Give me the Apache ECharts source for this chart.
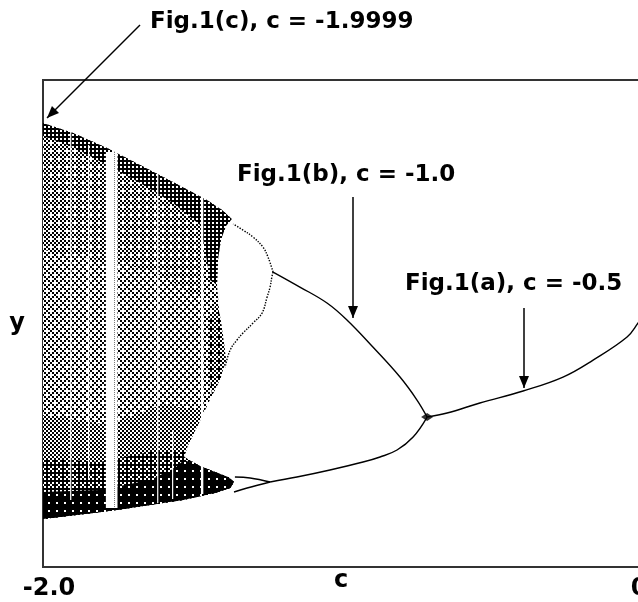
<!DOCTYPE html>
<html>
<head>
<meta charset="utf-8">
<title>Bifurcation diagram</title>
<script src="https://cdn.jsdelivr.net/npm/echarts@6/dist/echarts.min.js"></script>
<style>
  html, body { margin: 0; padding: 0; background: #fff; }
  #chart { width: 638px; height: 602px; }
</style>
</head>
<body>
<div id="chart"></div>
<script>
// 横轴刻度
const xTicks = [-2, 0]
const xTickLabels = ['-2.0', '0']

// 混沌区外轮廓 [c, y]
const chaosOutline = [
  [-2.000, 1.967], [-1.899, 1.866], [-1.785, 1.715], [-1.674, 1.544], [-1.564, 1.373],
  [-1.450, 1.192], [-1.399, 1.092], [-1.366, 1.001], [-1.386, 0.931], [-1.403, 0.790],
  [-1.413, 0.589], [-1.416, 0.337], [-1.409, 0.086], [-1.396, -0.166], [-1.386, -0.418],
  [-1.406, -0.619], [-1.440, -0.820], [-1.480, -1.072], [-1.513, -1.273], [-1.527, -1.393],
  [-1.473, -1.484], [-1.423, -1.544], [-1.379, -1.595], [-1.359, -1.645], [-1.372, -1.705],
  [-1.423, -1.755], [-1.530, -1.826], [-1.641, -1.876], [-1.752, -1.926], [-1.832, -1.957],
  [-1.943, -1.997], [-2.000, -2.017]
]
// 左上较密区
const upperMid = [
  [-2.000, 1.836], [-1.899, 1.725], [-1.785, 1.544], [-1.674, 1.363], [-1.564, 1.162],
  [-1.473, 0.940], [-1.456, 0.688], [-1.456, 0.186], [-1.641, 0.488], [-2.000, 0.689]
]
// 上沿密集带
const topBand = [
  [-2.000, 1.967], [-1.899, 1.866], [-1.785, 1.715], [-1.674, 1.544], [-1.564, 1.373],
  [-1.450, 1.192], [-1.399, 1.092], [-1.366, 1.001], [-1.386, 0.931], [-1.403, 0.790],
  [-1.413, 0.589], [-1.416, 0.337], [-1.440, 0.387], [-1.456, 0.688],
  [-1.473, 0.940], [-1.564, 1.162], [-1.674, 1.363], [-1.785, 1.544], [-1.899, 1.725],
  [-2.000, 1.836]
]
// 右缘中部
const rightPatch = [
  [-1.416, 0.186], [-1.396, -0.166], [-1.386, -0.418], [-1.406, -0.619], [-1.433, -0.770],
  [-1.446, -0.418], [-1.440, -0.015]
]
// 下部: 由浅到深
const bottomLow = [
  [-2.000, -0.971], [-1.775, -1.072], [-1.607, -0.870], [-1.456, -0.920], [-1.480, -1.072],
  [-1.513, -1.273], [-1.527, -1.393],
  [-1.473, -1.484], [-1.423, -1.544], [-1.379, -1.595], [-1.359, -1.645], [-1.372, -1.705],
  [-1.423, -1.755], [-1.530, -1.826], [-1.641, -1.876], [-1.752, -1.926], [-1.832, -1.957],
  [-1.943, -1.997], [-2.000, -2.017]
]
const bottomMid = [
  [-2.000, -1.403], [-1.809, -1.444], [-1.641, -1.343], [-1.520, -1.323], [-1.527, -1.393],
  [-1.473, -1.484], [-1.423, -1.544], [-1.379, -1.595], [-1.359, -1.645], [-1.372, -1.705],
  [-1.423, -1.755], [-1.530, -1.826], [-1.641, -1.876], [-1.752, -1.926], [-1.832, -1.957],
  [-1.943, -1.997], [-2.000, -2.017]
]
const bottomDark = [
  [-2.000, -1.745], [-1.809, -1.725], [-1.641, -1.625], [-1.557, -1.504], [-1.527, -1.423],
  [-1.473, -1.484], [-1.423, -1.544], [-1.379, -1.595], [-1.359, -1.645], [-1.372, -1.705],
  [-1.423, -1.755], [-1.530, -1.826], [-1.641, -1.876], [-1.752, -1.926], [-1.832, -1.957],
  [-1.943, -1.997], [-2.000, -2.017]
]
// 周期窗口 [c0, c1, yTop, yBottom]
const windows = [
  [-1.789, -1.750, 1.675, -1.906],
  [-1.909, -1.905, 1.896, -1.826],
  [-1.849, -1.845, 1.745, -1.625],
  [-1.617, -1.613, 1.474, -1.856],
  [-1.567, -1.563, -1.122, -1.816],
  [-1.470, -1.462, 1.494, -1.766]
]
const window3Trace = [[-1.760, 1.675], [-1.760, -1.906]]

// 周期分支
const period1 = [
  [-0.711, -0.991], [-0.644, -0.951], [-0.534, -0.850], [-0.389, -0.729], [-0.255, -0.589],
  [-0.154, -0.418], [-0.040, -0.186], [-0.003, -0.045], [0.000, -0.025]
]
const period2Upper = [
  [-0.711, -0.991], [-0.745, -0.820], [-0.802, -0.589], [-0.893, -0.287], [-0.980, -0.015],
  [-1.047, 0.156], [-1.138, 0.317], [-1.228, 0.468]
]
const period2Lower = [
  [-0.711, -0.991], [-0.758, -1.192], [-0.812, -1.323], [-0.869, -1.393], [-0.926, -1.444],
  [-1.037, -1.524], [-1.148, -1.595], [-1.238, -1.645]
]
const period4a = [
  [-1.228, 0.468], [-1.245, 0.619], [-1.262, 0.719], [-1.295, 0.820], [-1.329, 0.890], [-1.362, 0.951]
]
const period4b = [
  [-1.228, 0.468], [-1.232, 0.418], [-1.238, 0.317], [-1.248, 0.216], [-1.265, 0.055],
  [-1.295, -0.045], [-1.329, -0.146], [-1.349, -0.216], [-1.372, -0.317], [-1.389, -0.488]
]
const period4c = [[-1.238, -1.645], [-1.305, -1.605], [-1.356, -1.595]]
const period4d = [[-1.238, -1.645], [-1.315, -1.705], [-1.359, -1.745]]
const knots = [[-0.711, -0.991]]

const FONT = '"DejaVu Sans", sans-serif'

// 有序抖动纹理, 模拟黑白点阵
const BAYER = [0, 8, 2, 10, 12, 4, 14, 6, 3, 11, 1, 9, 15, 7, 13, 5]
function dither(level) {
  const cv = document.createElement('canvas')
  cv.width = 8
  cv.height = 8
  const ctx = cv.getContext('2d')
  ctx.fillStyle = '#fff'
  ctx.fillRect(0, 0, 8, 8)
  ctx.fillStyle = '#000'
  BAYER.forEach((t, i) => {
    if (t < level * 16) ctx.fillRect((i % 4) * 2, Math.floor(i / 4) * 2, 2, 2)
  })
  return { image: cv, repeat: 'repeat' }
}

const shadeLayers = [
  { pts: chaosOutline, fill: dither(0.32) },
  { pts: upperMid, fill: dither(0.42) },
  { pts: topBand, fill: dither(0.7) },
  { pts: rightPatch, fill: dither(0.55) },
  { pts: bottomLow, fill: dither(0.46) },
  { pts: bottomMid, fill: dither(0.66) },
  { pts: bottomDark, fill: dither(0.9) }
]

function branch(name, data, type) {
  return {
    type: 'line',
    name: name,
    data: data,
    symbol: 'none',
    smooth: 0.4,
    lineStyle: { color: '#000', width: 1.4, type: type || 'solid' },
    silent: true,
    z: 5
  }
}

function arrowHead(tip, from, len, half) {
  const dx = tip[0] - from[0]
  const dy = tip[1] - from[1]
  const d = Math.sqrt(dx * dx + dy * dy)
  const ux = dx / d
  const uy = dy / d
  const bx = tip[0] - ux * len
  const by = tip[1] - uy * len
  return [tip, [bx - uy * half, by + ux * half], [bx + uy * half, by - ux * half]]
}

// 标注: 文字 + 箭头
const notes = [
  { text: 'Fig.1(c), c = -1.9999', x: 150, y: 22, from: [140, 25], tip: [47, 118] },
  { text: 'Fig.1(b), c = -1.0', x: 237, y: 175, from: [353, 197], tip: [353, 318] },
  { text: 'Fig.1(a), c = -0.5', x: 405, y: 284, from: [524, 308], tip: [524, 388] }
]
const graphics = []
notes.forEach(n => {
  graphics.push({
    type: 'text', z: 10,
    style: { text: n.text, x: n.x, y: n.y, fill: '#000', font: 'bold 23px ' + FONT, verticalAlign: 'middle' }
  })
  graphics.push({
    type: 'line', z: 10,
    shape: { x1: n.from[0], y1: n.from[1], x2: n.tip[0], y2: n.tip[1] },
    style: { stroke: '#000', lineWidth: 1.5 }
  })
  graphics.push({
    type: 'polygon', z: 10,
    shape: { points: arrowHead(n.tip, n.from, 12, 5) },
    style: { fill: '#000' }
  })
})

const option = {
  animation: false,
  backgroundColor: '#fff',
  grid: {
    left: 43, top: 80, width: 596, height: 487,
    outerBoundsMode: 'none', containLabel: false,
    show: true, borderColor: '#333', borderWidth: 2
  },
  xAxis: {
    type: 'value', min: -2, max: 0, interval: 2,
    name: 'c', nameLocation: 'middle', nameGap: 2, nameMoveOverlap: false,
    nameTextStyle: { fontFamily: FONT, fontWeight: 'bold', fontSize: 24, color: '#000' },
    axisLine: { show: false }, axisTick: { show: false }, splitLine: { show: false },
    axisLabel: {
      margin: 10,
      fontFamily: FONT, fontWeight: 'bold', fontSize: 24, color: '#000',
      formatter: v => {
        const i = xTicks.indexOf(v)
        if (i < 0) return ''
        return i === 0 ? '{first|' + xTickLabels[i] + '}' : xTickLabels[i]
      },
      rich: { first: { fontFamily: FONT, fontWeight: 'bold', fontSize: 24, color: '#000', padding: [0, 0, 0, 12] } }
    }
  },
  yAxis: {
    type: 'value', min: -2.5, max: 2.4,
    name: 'y', nameLocation: 'middle', nameRotate: 0, nameGap: 18, nameMoveOverlap: false,
    nameTextStyle: { fontFamily: FONT, fontWeight: 'bold', fontSize: 24, color: '#000' },
    axisLine: { show: false }, axisTick: { show: false }, splitLine: { show: false },
    axisLabel: { show: false }
  },
  graphic: graphics,
  series: [
    {
      type: 'custom',
      silent: true,
      z: 1,
      data: shadeLayers.map(() => [-1, 0]),
      renderItem: (params, api) => {
        const layer = shadeLayers[params.dataIndex]
        return {
          type: 'polygon',
          shape: { points: layer.pts.map(p => api.coord(p)) },
          style: { fill: layer.fill }
        }
      }
    },
    {
      type: 'custom',
      silent: true,
      z: 2,
      data: windows,
      renderItem: (params, api) => {
        const p0 = api.coord([api.value(0), api.value(2)])
        const p1 = api.coord([api.value(1), api.value(3)])
        return {
          type: 'rect',
          shape: { x: p0[0], y: p0[1], width: p1[0] - p0[0], height: p1[1] - p0[1] },
          style: { fill: '#fff' }
        }
      }
    },
    {
      type: 'line', data: window3Trace, symbol: 'none', silent: true, z: 3,
      lineStyle: { color: '#777', width: 1, type: 'dotted' }
    },
    branch('period1', period1),
    branch('period2Upper', period2Upper),
    branch('period2Lower', period2Lower),
    branch('period4a', period4a, 'dotted'),
    branch('period4b', period4b, 'dotted'),
    branch('period4c', period4c),
    branch('period4d', period4d),
    {
      type: 'scatter', data: knots, symbol: 'diamond', symbolSize: [12, 8], silent: true, z: 6,
      itemStyle: { color: '#000' }
    }
  ]
}

const chart = echarts.init(document.getElementById('chart'))
chart.setOption(option)
</script>
</body>
</html>
